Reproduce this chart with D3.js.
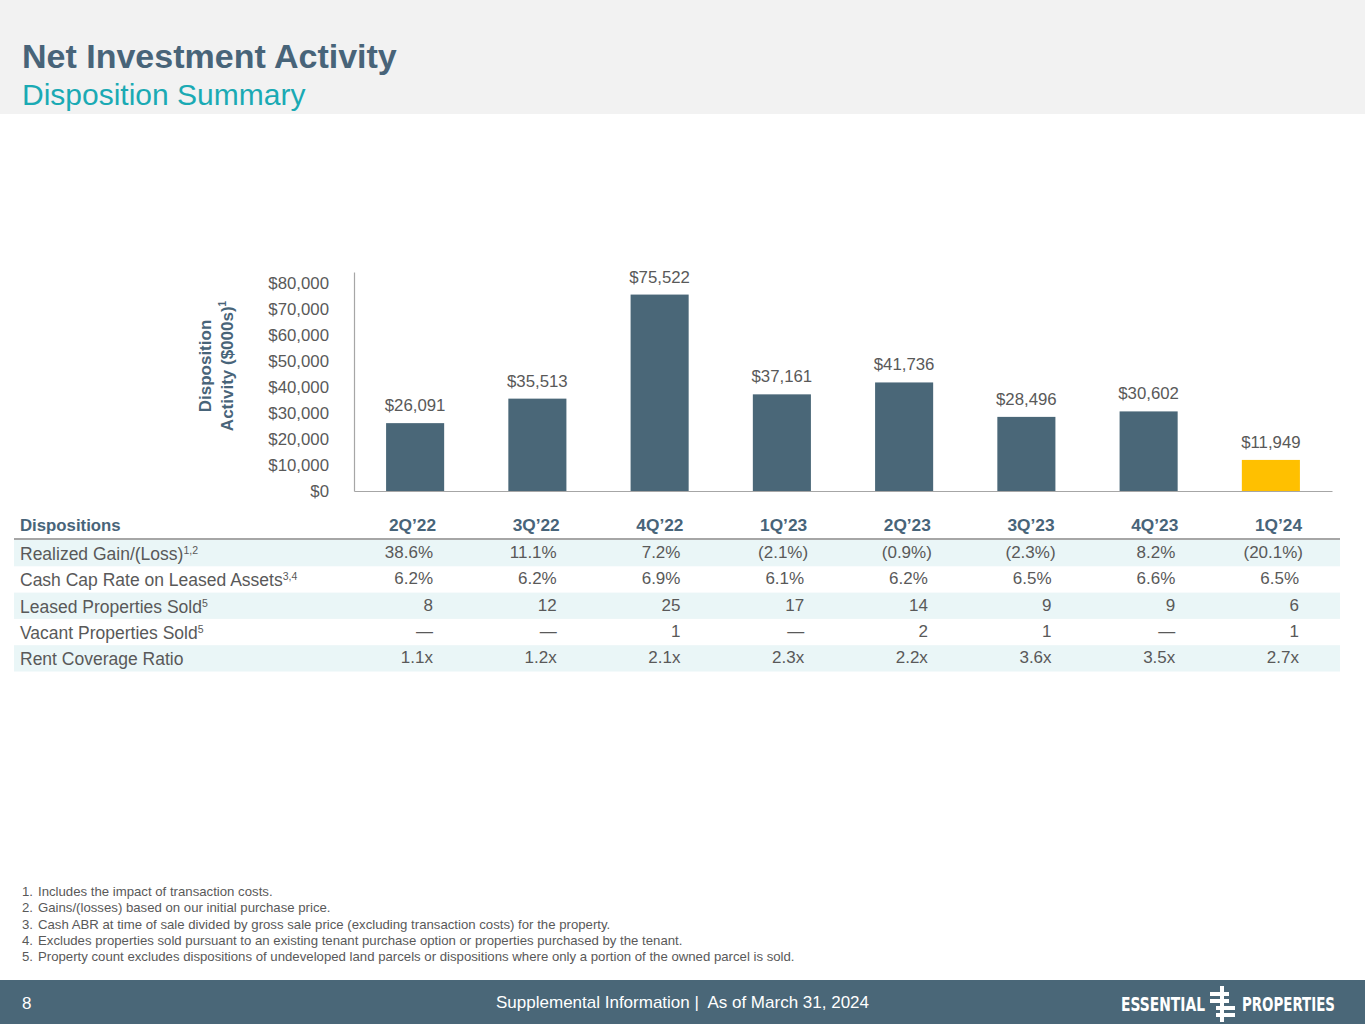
<!DOCTYPE html>
<html>
<head>
<meta charset="utf-8">
<script src="https://cdn.jsdelivr.net/npm/d3@7"></script>
<style>
    body { margin: 0; background: #fff; }
    svg { display: block; font-family: "Liberation Sans", Arial, sans-serif; }
</style>
</head>
<body>
<svg id="page" width="1365" height="1024"></svg>
<script>
    // chart data
    const quarters = ["2Q’22", "3Q’22", "4Q’22", "1Q’23", "2Q’23", "3Q’23", "4Q’23", "1Q’24"];
    const dispositionValues = [26091, 35513, 75522, 37161, 41736, 28496, 30602, 11949];
    const yTicks = [0, 10000, 20000, 30000, 40000, 50000, 60000, 70000, 80000];

    // table data
    const rowLabels = [
        ["Realized Gain/(Loss)", "1,2"],
        ["Cash Cap Rate on Leased Assets", "3,4"],
        ["Leased Properties Sold", "5"],
        ["Vacant Properties Sold", "5"],
        ["Rent Coverage Ratio", ""]
    ];
    const realizedGain = ["38.6%", "11.1%", "7.2%", "(2.1%)", "(0.9%)", "(2.3%)", "8.2%", "(20.1%)"];
    const cashCapRate = ["6.2%", "6.2%", "6.9%", "6.1%", "6.2%", "6.5%", "6.6%", "6.5%"];
    const leasedSold = ["8", "12", "25", "17", "14", "9", "9", "6"];
    const vacantSold = ["—", "—", "1", "—", "2", "1", "—", "1"];
    const rentCoverage = ["1.1x", "1.2x", "2.1x", "2.3x", "2.2x", "3.6x", "3.5x", "2.7x"];

    const footnotes = [
        "Includes the impact of transaction costs.",
        "Gains/(losses) based on our initial purchase price.",
        "Cash ABR at time of sale divided by gross sale price (excluding transaction costs) for the property.",
        "Excludes properties sold pursuant to an existing tenant purchase option or properties purchased by the tenant.",
        "Property count excludes dispositions of undeveloped land parcels or dispositions where only a portion of the owned parcel is sold."
    ];

    const slate = "#4a6778";
    const grayText = "#595959";
    const svg = d3.select("#page");

    // header
    svg.append("rect").attr("x", 0).attr("y", 0).attr("width", 1365).attr("height", 114).attr("fill", "#f2f2f2");
    svg.append("text").attr("x", 22).attr("y", 68)
        .attr("font-size", 34).attr("font-weight", "bold").attr("fill", "#486479")
        .text("Net Investment Activity");
    svg.append("text").attr("x", 22).attr("y", 105)
        .attr("font-size", 30).attr("fill", "#1aaab4")
        .text("Disposition Summary");

    // bar chart
    const x = d3.scaleBand().domain(quarters).range([354, 1332]).paddingInner(0.525).paddingOuter(0.2625);
    const y = d3.scaleLinear().domain([0, 84200]).range([491, 272]);

    const yAxis = svg.append("g").attr("transform", "translate(354,0)")
        .call(d3.axisLeft(y).tickValues(yTicks).tickSize(0).tickSizeOuter(0).tickPadding(25)
            .tickFormat(d => "$" + d3.format(",")(d)));
    yAxis.select(".domain").attr("stroke", "#a6a6a6").attr("stroke-width", 1.2);
    yAxis.selectAll("text").attr("font-size", 16.8).attr("fill", grayText)
        .attr("font-family", "Liberation Sans, Arial, sans-serif");

    const xAxis = svg.append("g").attr("transform", "translate(0,491)")
        .call(d3.axisBottom(x).tickSize(0).tickFormat(""));
    xAxis.select(".domain").attr("stroke", "#a6a6a6").attr("stroke-width", 1.2);

    svg.append("g").selectAll("rect").data(dispositionValues).join("rect")
        .attr("x", (d, i) => x(quarters[i]))
        .attr("y", d => y(d))
        .attr("width", x.bandwidth())
        .attr("height", d => y(0) - y(d))
        .attr("fill", (d, i) => i === quarters.length - 1 ? "#ffc000" : slate);

    svg.append("g").selectAll("text").data(dispositionValues).join("text")
        .attr("x", (d, i) => x(quarters[i]) + x.bandwidth() / 2)
        .attr("y", d => y(d) - 12)
        .attr("text-anchor", "middle").attr("font-size", 16.8).attr("fill", grayText)
        .text(d => "$" + d3.format(",")(d));

    const yLabel = svg.append("text").attr("transform", "translate(216,366) rotate(-90)")
        .attr("text-anchor", "middle").attr("font-size", 17).attr("font-weight", "bold").attr("fill", "#486479");
    yLabel.append("tspan").attr("x", 0).attr("dy", -5).text("Disposition");
    yLabel.append("tspan").attr("x", 0).attr("dy", 22).text("Activity ($000s)")
        .append("tspan").attr("font-size", 10).attr("dy", -7).text("1");

    // table
    const colX = d3.scalePoint().domain(quarters).range([436, 1302]);
    const rowTop = 540, rowH = 26.3;
    const rows = [realizedGain, cashCapRate, leasedSold, vacantSold, rentCoverage];

    svg.append("text").attr("x", 20).attr("y", 531).attr("font-size", 16.8).attr("font-weight", "bold")
        .attr("fill", "#486479").text("Dispositions");
    svg.append("g").selectAll("text").data(quarters).join("text")
        .attr("x", d => colX(d)).attr("y", 531).attr("text-anchor", "end")
        .attr("font-size", 17.3).attr("font-weight", "bold").attr("fill", "#486479").text(d => d);
    svg.append("line").attr("x1", 14).attr("x2", 1340).attr("y1", 539).attr("y2", 539)
        .attr("stroke", "#a6a6a6").attr("stroke-width", 2);

    rows.forEach((vals, r) => {
        const top = rowTop + r * rowH;
        if (r % 2 === 0) {
            svg.append("rect").attr("x", 14).attr("y", top).attr("width", 1326).attr("height", rowH)
                .attr("fill", "#eaf6f7");
        }
        const lbl = svg.append("text").attr("x", 20).attr("y", top + 20).attr("font-size", 17.5).attr("fill", grayText);
        lbl.append("tspan").text(rowLabels[r][0]);
        if (rowLabels[r][1]) lbl.append("tspan").attr("font-size", 10.5).attr("dy", -6).text(rowLabels[r][1]);
        svg.append("g").selectAll("text").data(vals).join("text")
            .attr("x", (d, i) => colX(quarters[i]) - 3 + (d.startsWith("(") ? 4 : 0))
            .attr("y", top + 18).attr("text-anchor", "end").attr("font-size", 17).attr("fill", grayText)
            .text(d => d);
    });

    // footnotes
    const fn = svg.append("g").attr("font-size", 13.2).attr("fill", grayText);
    fn.selectAll("text.num").data(footnotes).join("text").attr("class", "num")
        .attr("x", 22).attr("y", (d, i) => 896 + i * 16.3)
        .text((d, i) => (i + 1) + ".");
    fn.selectAll("text.note").data(footnotes).join("text").attr("class", "note")
        .attr("x", 38).attr("y", (d, i) => 896 + i * 16.3)
        .text(d => d);

    // footer
    svg.append("rect").attr("x", 0).attr("y", 980).attr("width", 1365).attr("height", 44).attr("fill", slate);
    svg.append("text").attr("x", 22).attr("y", 1009).attr("font-size", 17).attr("fill", "#fff").text("8");
    svg.append("text").attr("x", 869).attr("y", 1008).attr("text-anchor", "end").attr("font-size", 17)
        .attr("fill", "#fff").text("Supplemental Information |\u00a0 As of March 31, 2024");

    const logo = svg.append("g").attr("fill", "#fff");
    logo.append("text").attr("x", 1121).attr("y", 1011).attr("font-size", 19).attr("font-weight", "bold")
        .attr("font-family", "DejaVu Sans Condensed, Liberation Sans Narrow, sans-serif")
        .attr("textLength", 84).attr("lengthAdjust", "spacingAndGlyphs").text("ESSENTIAL");
    logo.append("text").attr("x", 1242).attr("y", 1011).attr("font-size", 19).attr("font-weight", "bold")
        .attr("font-family", "DejaVu Sans Condensed, Liberation Sans Narrow, sans-serif")
        .attr("textLength", 93).attr("lengthAdjust", "spacingAndGlyphs").text("PROPERTIES");
    logo.append("rect").attr("x", 1220).attr("y", 986).attr("width", 4).attr("height", 36);
    [[1210, 992], [1210, 999], [1216, 1006], [1216, 1013]].forEach(([bx, by]) => {
        logo.append("rect").attr("x", bx).attr("y", by).attr("width", 19).attr("height", 4);
    });
</script>
</body>
</html>
